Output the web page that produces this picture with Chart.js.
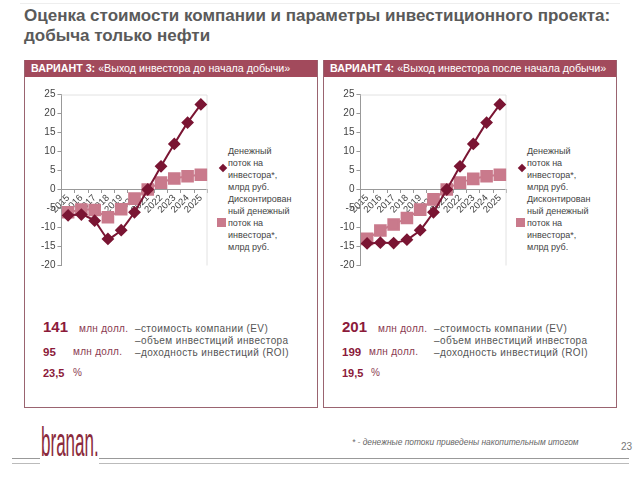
<!DOCTYPE html>
<html>
<head>
<meta charset="utf-8">
<script src="https://cdn.jsdelivr.net/npm/chart.js@4.4.1/dist/chart.umd.min.js"></script>
<style>
  body { margin: 0; background: #fff; font-family: "Liberation Sans", Arial, sans-serif; }
  #page { position: relative; width: 640px; height: 480px; overflow: hidden; }
  .abs { position: absolute; white-space: nowrap; }
  .title { left: 24px; top: 6px; font-size: 17px; font-weight: bold; color: #5a5a5a; line-height: 20px; }
  .panel { position: absolute; top: 60px; height: 348px; border: 1px solid #9a6470; border-top: none; box-sizing: border-box; }
  .bar { position: absolute; left: 0; right: 0; top: 0; height: 17px; background: #a24a5c; color: #fff; font-size: 10.7px; line-height: 17px; padding-left: 6px; }
  .bar b { font-weight: bold; }
  .legend { position: absolute; font-size: 9px; color: #444; line-height: 12px; }
  .legend .line { white-space: nowrap; }
  .mk { position: absolute; }
  .big { font-weight: bold; color: #8b1a3a; }
  .unit { color: #8a3a50; font-size: 10px; letter-spacing: 0.3px; }
  .desc { color: #555; font-size: 10px; letter-spacing: 0.4px; line-height: 12px; }
  canvas { position: absolute; }
</style>
</head>
<body>
<div id="page">
  <div class="abs title">Оценка стоимости компании и параметры инвестиционного проекта:<br>добыча только нефти</div>
  <div style="position:absolute;left:20px;right:20px;top:3px;height:1px;background:#eee"></div>

  <div class="panel" style="left:24px;width:294px"><div class="bar"><b>ВАРИАНТ 3:</b> «Выход инвестора до начала добычи»</div></div>
  <div class="panel" style="left:323px;width:294px"><div class="bar"><b>ВАРИАНТ 4:</b> «Выход инвестора после начала добычи»</div></div>

  <canvas id="c1" width="178" height="190" style="left:39px;top:85px"></canvas>
  <canvas id="c2" width="178" height="190" style="left:338px;top:85px"></canvas>
  <div id="lg1" class="legend" style="left:220px;top:145px"></div>
  <div id="lg2" class="legend" style="left:519px;top:145px"></div>

  <div id="stats1"></div>
  <div id="stats2"></div>

  <div class="abs" style="left:41px;top:420px;font-family:'Liberation Sans',sans-serif;font-size:37px;line-height:40px;color:#8b2a3c;transform:scale(0.46,1.12);transform-origin:left top">branan.</div>
  <div style="position:absolute;left:12px;width:28px;top:458px;height:1px;background:#999"></div>
  <div style="position:absolute;left:12px;width:28px;top:463px;height:1px;background:#bbb"></div>
  <div style="position:absolute;left:99px;width:530px;top:458px;height:1px;background:#999"></div>
  <div style="position:absolute;left:99px;width:530px;top:463px;height:1px;background:#bbb"></div>
  <div class="abs" style="left:352px;top:437px;font-size:8.4px;font-style:italic;color:#666">* - денежные потоки приведены накопительным итогом</div>
  <div class="abs" style="left:621px;top:441px;font-size:10px;color:#777">23</div>
</div>
<script>
// years on the x axis
const years = ['2015', '2016', '2017', '2018', '2019', '2020', '2021', '2022', '2023', '2024', '2025'];
const yTicks = [-20, -15, -10, -5, 0, 5, 10, 15, 20, 25];

// variant 3
const cashFlow3 = [-6.8, -6.6, -8.2, -13.0, -10.7, -6.0, 0.0, 6.1, 12.0, 17.6, 22.4];
const discFlow3 = [-6.0, -5.3, -5.4, -7.3, -5.2, -2.4, 0.0, 1.8, 2.9, 3.5, 3.9];
// variant 4
const cashFlow4 = [-14.2, -14.0, -14.1, -13.2, -10.7, -6.0, 0.0, 6.1, 12.0, 17.6, 22.4];
const discFlow4 = [-13.0, -10.8, -9.2, -7.5, -5.3, -2.6, 0.0, 1.8, 2.8, 3.5, 3.9];

const seriesNames = ['Денежный поток на инвестора*, млрд руб.', 'Дисконтированный денежный поток на инвестора*, млрд руб.'];
const legendLines = [
    ['Денежный', 'поток на', 'инвестора*,', 'млрд руб.'],
    ['Дисконтирован', 'ный денежный', 'поток на', 'инвестора*,', 'млрд руб.']
];

// bottom figures
const stats3 = { ev: '141', inv: '95', roi: '23,5' };
const stats4 = { ev: '201', inv: '199', roi: '19,5' };

const darkRed = '#7a1533';
const pink = '#c97a8c';

const frame = {
    id: 'frame',
    beforeDatasetsDraw(chart) {
        const a = chart.chartArea;
        const ctx = chart.ctx;
        ctx.save();
        ctx.strokeStyle = '#e2e2e2';
        ctx.lineWidth = 1;
        ctx.beginPath();
        ctx.moveTo(a.left, a.top + 0.5);
        ctx.lineTo(a.right - 0.5, a.top + 0.5);
        ctx.lineTo(a.right - 0.5, a.bottom);
        ctx.stroke();
        ctx.restore();
    }
};

function makeChart(id, cash, disc) {
    return new Chart(document.getElementById(id), {
        type: 'line',
        data: {
            labels: years,
            datasets: [{
                label: seriesNames[0],
                data: cash,
                borderColor: darkRed,
                backgroundColor: darkRed,
                borderWidth: 2,
                tension: 0.15,
                pointStyle: 'rectRot',
                pointRadius: 5,
                pointHoverRadius: 5,
            }, {
                label: seriesNames[1],
                data: disc,
                borderColor: pink,
                backgroundColor: pink,
                borderWidth: 2,
                tension: 0.15,
                pointStyle: 'rect',
                pointRadius: 7.5,
                pointHoverRadius: 7.5,
            }]
        },
        options: {
            responsive: false,
            animation: false,
            layout: { padding: { right: 2 } },
            plugins: {
                legend: { display: false },
                tooltip: { enabled: false },
            },
            scales: {
                x: {
                    position: { y: 0 },
                    offset: true,
                    grid: { display: true, drawOnChartArea: false, drawTicks: true, tickLength: 3, color: '#999', offset: true },
                    border: { color: '#999' },
                    ticks: {
                        autoSkip: false,
                        minRotation: 45,
                        maxRotation: 45,
                        padding: 0,
                        color: '#444',
                        font: { family: 'Liberation Sans', size: 9.5 },
                    }
                },
                y: {
                    min: -20,
                    max: 25,
                    afterBuildTicks(axis) { axis.ticks = yTicks.map(v => ({ value: v })); },
                    grid: { drawOnChartArea: false, drawTicks: true, tickLength: 4, color: '#999' },
                    border: { color: '#999' },
                    ticks: {
                        padding: 2,
                        color: '#444',
                        font: { family: 'Liberation Sans', size: 10 },
                    }
                }
            }
        },
        plugins: [frame]
    });
}

function makeLegend(id, chart) {
    const box = document.getElementById(id);
    chart.data.datasets.forEach((ds, i) => {
        const lines = legendLines[i];
        const wrap = document.createElement('div');
        wrap.style.position = 'relative';
        wrap.style.paddingLeft = '8px';
        lines.forEach(t => {
            const l = document.createElement('div');
            l.className = 'line';
            l.textContent = t;
            wrap.appendChild(l);
        });
        const mk = document.createElement('div');
        mk.className = 'mk';
        if (i === 0) {
            mk.style.cssText = 'left:0px;top:20px;width:6px;height:6px;background:' + ds.borderColor + ';transform:rotate(45deg)';
        } else {
            mk.style.cssText = 'left:-3px;top:25px;width:9px;height:9px;background:' + ds.borderColor;
        }
        wrap.appendChild(mk);
        box.appendChild(wrap);
    });
}

function makeStats(id, s, left, unit1, unit2, pct) {
    const el = document.getElementById(id);
    el.innerHTML =
        '<div class="abs big" style="left:' + left + 'px;top:318px;font-size:15px">' + s.ev + '</div>' +
        '<div class="abs unit" style="left:' + (left + unit1) + 'px;top:323px">млн долл.</div>' +
        '<div class="abs big" style="left:' + left + 'px;top:346px;font-size:11.5px">' + s.inv + '</div>' +
        '<div class="abs unit" style="left:' + (left + unit2) + 'px;top:346px">млн долл.</div>' +
        '<div class="abs big" style="left:' + left + 'px;top:367px;font-size:11px">' + s.roi + '</div>' +
        '<div class="abs unit" style="left:' + (left + pct) + 'px;top:367px">%</div>' +
        '<div class="abs desc" style="left:' + (left + 92) + 'px;top:323px">–стоимость компании (EV)<br>–объем инвестиций инвестора<br>–доходность инвестиций (ROI)</div>';
}

const ch1 = makeChart('c1', cashFlow3, discFlow3);
const ch2 = makeChart('c2', cashFlow4, discFlow4);
makeLegend('lg1', ch1);
makeLegend('lg2', ch2);
makeStats('stats1', stats3, 43, 36, 30, 30);
makeStats('stats2', stats4, 342, 36, 27, 29);
</script>
</body>
</html>
